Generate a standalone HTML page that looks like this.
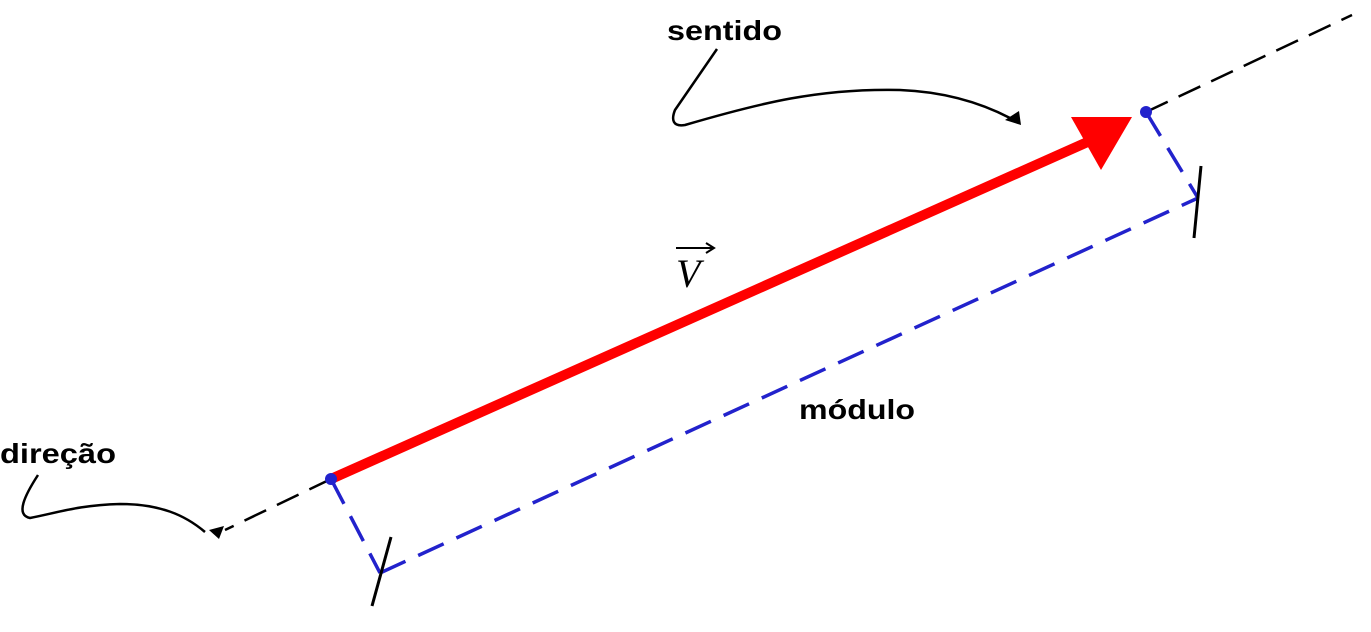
<!DOCTYPE html>
<html><head><meta charset="utf-8"><style>
html,body{margin:0;padding:0;background:#fff;}
svg{display:block}
text{font-family:"Liberation Sans",sans-serif;font-weight:bold;font-size:28px;fill:#000}
</style></head><body>
<svg width="1371" height="632" viewBox="0 0 1371 632" xmlns="http://www.w3.org/2000/svg">
<line x1="1146" y1="112" x2="1352" y2="15" stroke="#000" stroke-width="2.5" stroke-dasharray="24,12"/>
<line x1="331" y1="479" x2="225" y2="530" stroke="#000" stroke-width="2.5" stroke-dasharray="24,12"/>
<path d="M209,530 l15,-4 l-5,13 z" fill="#000"/>
<g stroke="#2222cc" stroke-width="3.5" stroke-dasharray="28,14" fill="none">
<line x1="331" y1="479" x2="380" y2="573"/>
<line x1="1146" y1="112" x2="1198" y2="198"/>
<line x1="380" y1="573" x2="1198" y2="198"/>
</g>
<line x1="372" y1="606" x2="391" y2="537" stroke="#000" stroke-width="3"/>
<line x1="1194" y1="238" x2="1201" y2="166" stroke="#000" stroke-width="3"/>
<line x1="331" y1="479" x2="1092" y2="140" stroke="#ff0000" stroke-width="10"/>
<polygon points="1071,117 1132,117 1101,170" fill="#ff0000"/>
<circle cx="331" cy="479" r="6" fill="#2222cc"/>
<circle cx="1146" cy="112" r="6" fill="#2222cc"/>
<path d="M717,49 L675,110 C671,120 673,127 685,125 C760,103 820,88 900,90 C950,92 985,105 1010,118" fill="none" stroke="#000" stroke-width="2.5"/>
<path d="M1005,120 l14,-9 l2,14 z" fill="#000"/>
<path d="M38,475 C25,495 15,515 30,518 C60,512 80,505 120,504 C160,504 185,515 205,532" fill="none" stroke="#000" stroke-width="2.5"/>
<text x="667" y="40" textLength="115" lengthAdjust="spacingAndGlyphs">sentido</text>
<text x="0" y="463" textLength="116" lengthAdjust="spacingAndGlyphs">direção</text>
<text x="799" y="419" textLength="116" lengthAdjust="spacingAndGlyphs">módulo</text>
<text x="676" y="287" style="font-family:'Liberation Serif',serif;font-style:italic;font-weight:normal;font-size:40px">V</text>
<line x1="676" y1="248" x2="712" y2="248" stroke="#000" stroke-width="2"/>
<path d="M706,243 l8,5 l-8,5" fill="none" stroke="#000" stroke-width="2"/>
</svg>
</body></html>
